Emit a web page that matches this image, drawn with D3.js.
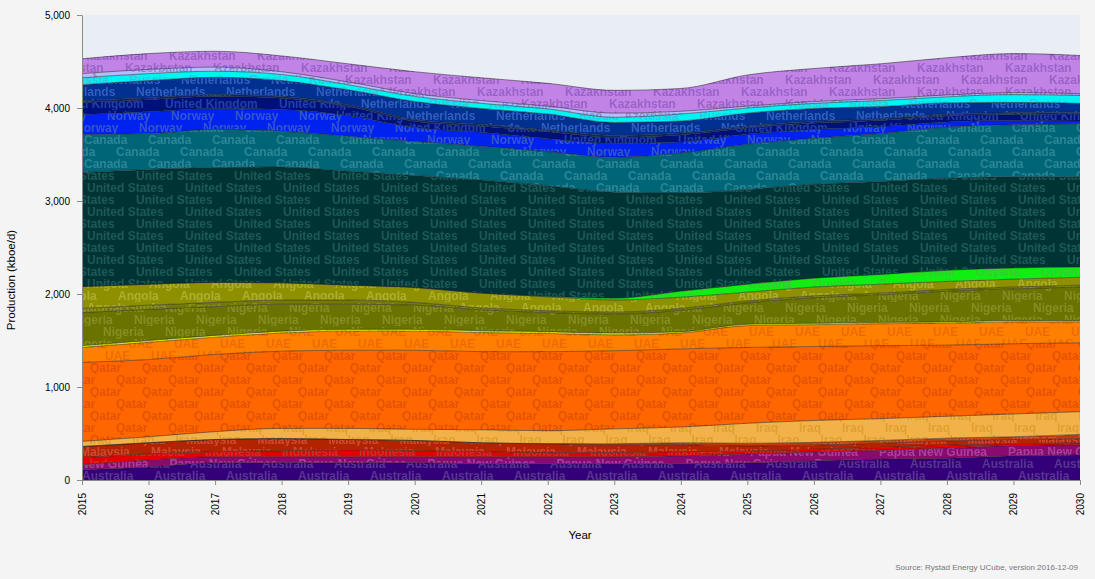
<!DOCTYPE html>
<html>
<head>
<meta charset="utf-8">
<title>Production by country</title>
<script src="https://d3js.org/d3.v7.min.js"></script>
<style>
  body { margin: 0; background: #f4f4f4; }
  svg { display: block; font-family: "Liberation Sans", Arial, sans-serif; }
</style>
</head>
<body>
<script>
// values in kboe/d
const years = [2015, 2016, 2017, 2018, 2019, 2020, 2021, 2022, 2023, 2024, 2025, 2026, 2027, 2028, 2029, 2030];

const australia        = [110, 140, 185, 185, 185, 185, 175, 175, 175, 175, 185, 205, 225, 235, 260, 270];
const papuaNewGuinea   = [55, 75, 65, 65, 65, 65, 75, 75, 75, 85, 95, 95, 95, 110, 110, 110];
const indonesia        = [75, 65, 55, 65, 75, 65, 55, 45, 45, 45, 30, 30, 30, 30, 20, 20];
const malaysia         = [120, 120, 130, 130, 110, 110, 95, 95, 85, 75, 55, 45, 45, 45, 45, 45];
const vietnam          = [0, 0, 0, 0, 0, 0, 0, 0, 10, 20, 30, 30, 30, 30, 30, 45];
const iraq             = [55, 65, 85, 110, 120, 120, 140, 140, 160, 170, 215, 235, 235, 235, 245, 245];
const qatar            = [850, 830, 830, 830, 840, 850, 840, 850, 840, 840, 815, 795, 785, 765, 755, 740];
const uae              = [160, 185, 185, 195, 205, 205, 205, 195, 170, 170, 235, 235, 235, 235, 235, 225];
const chad             = [20, 20, 20, 20, 20, 20, 20, 20, 20, 15, 15, 15, 15, 15, 15, 15];
const nigeria          = [355, 335, 310, 290, 270, 260, 225, 205, 205, 230, 230, 275, 295, 330, 340, 360];
const equatorialGuinea = [45, 45, 45, 45, 45, 30, 20, 20, 20, 20, 20, 20, 20, 20, 20, 20];
const angola           = [235, 225, 215, 185, 160, 160, 160, 150, 130, 120, 95, 95, 95, 85, 85, 85];
const guyana           = [0, 0, 0, 0, 0, 0, 0, 5, 20, 65, 85, 95, 105, 120, 120, 110];
const unitedStates     = [1225, 1235, 1235, 1245, 1225, 1205, 1215, 1190, 1140, 1055, 1020, 1010, 1000, 990, 980, 970];
const canada           = [410, 385, 410, 385, 375, 365, 365, 365, 375, 430, 485, 495, 515, 550, 560, 570];
const norway           = [215, 235, 225, 235, 225, 150, 150, 140, 150, 120, 110, 95, 75, 55, 45, 30];
const unitedKingdom    = [130, 130, 130, 120, 95, 65, 65, 75, 65, 75, 65, 65, 65, 65, 65, 75];
const germany          = [20, 20, 20, 20, 20, 20, 20, 20, 20, 20, 20, 20, 20, 20, 20, 20];
const netherlands      = [170, 185, 185, 170, 160, 195, 170, 170, 140, 130, 140, 140, 130, 120, 110, 95];
const russia           = [75, 75, 65, 65, 55, 55, 55, 55, 55, 75, 55, 55, 65, 65, 85, 85];
const azerbaijan       = [45, 45, 45, 30, 30, 30, 30, 30, 45, 30, 20, 20, 20, 20, 20, 20];
const kazakhstan       = [160, 170, 170, 170, 195, 235, 245, 245, 245, 245, 335, 355, 375, 400, 420, 410];

const yTicks = [0, 1000, 2000, 3000, 4000, 5000];

// stacking order, bottom to top
const countries = [
  ["Australia", australia], ["Papua New Guinea", papuaNewGuinea], ["Indonesia", indonesia],
  ["Malaysia", malaysia], ["Vietnam", vietnam], ["Iraq", iraq], ["Qatar", qatar], ["UAE", uae],
  ["Chad", chad], ["Nigeria", nigeria], ["Equatorial Guinea", equatorialGuinea], ["Angola", angola],
  ["Guyana", guyana], ["United States", unitedStates], ["Canada", canada], ["Norway", norway],
  ["United Kingdom", unitedKingdom], ["Germany", germany], ["Netherlands", netherlands],
  ["Russia", russia], ["Azerbaijan", azerbaijan], ["Kazakhstan", kazakhstan]
];

// fill colour, label colour
const colors = {
  "Australia": ["#34007a", "#56368f"],
  "Papua New Guinea": ["#8a0a70", "#a8409a"],
  "Indonesia": ["#e40000", "#c83030"],
  "Malaysia": ["#b22400", "#cc4a33"],
  "Vietnam": ["#c23a10", "#d05a30"],
  "Iraq": ["#f2b24a", "#e0a030"],
  "Qatar": ["#ff6600", "#e25200"],
  "UAE": ["#ff8000", "#ee6a00"],
  "Chad": ["#eeee00", "#c8c800"],
  "Nigeria": ["#6a7200", "#858d22"],
  "Equatorial Guinea": ["#747a05", "#8c9330"],
  "Angola": ["#8e9000", "#acae2e"],
  "Guyana": ["#11ee11", "#33cc33"],
  "United States": ["#003434", "#1d5858"],
  "Canada": ["#006677", "#2a8595"],
  "Norway": ["#0022ee", "#3355cc"],
  "United Kingdom": ["#00107a", "#2040a8"],
  "Germany": ["#102a70", "#3050a0"],
  "Netherlands": ["#003090", "#2f5ec0"],
  "Russia": ["#00f4f4", "#30c8e0"],
  "Azerbaijan": ["#b4bcff", "#8890d8"],
  "Kazakhstan": ["#c283e6", "#9a62c8"]
};

const W = 1095, H = 579;
const margin = {left: 82, right: 15, top: 15, bottom: 99};

const svg = d3.select("body").append("svg").attr("width", W).attr("height", H);

const x = d3.scaleLinear().domain([2015, 2030]).range([margin.left, W - margin.right]);
const y = d3.scaleLinear().domain([0, 5000]).range([H - margin.bottom, margin.top]);

const rows = years.map((yr, i) => {
  const r = {year: yr};
  countries.forEach(([name, vals]) => r[name] = vals[i]);
  return r;
});
const series = d3.stack().keys(countries.map(c => c[0]))(rows);

// plot background
svg.append("rect")
  .attr("x", x(2015)).attr("y", y(5000))
  .attr("width", x(2030) - x(2015)).attr("height", y(0) - y(5000))
  .attr("fill", "#e9edf4");

// repeated label patterns, one per country
const defs = svg.append("defs");
series.forEach((s, i) => {
  const tmp = svg.append("text").attr("font-size", 12).attr("font-weight", "bold").text(s.key);
  const w = tmp.node().getComputedTextLength();
  tmp.remove();
  const period = Math.round(w + 21);
  const pat = defs.append("pattern")
    .attr("id", "pat" + i)
    .attr("patternUnits", "userSpaceOnUse")
    .attr("width", period).attr("height", 24)
    .attr("x", margin.left + (i * 23) % period).attr("y", y(0) - 10);
  pat.selectAll("text")
    .data([[0, 10], [period / 2, 22], [-period / 2, 22]])
    .join("text")
    .attr("x", d => d[0]).attr("y", d => d[1])
    .attr("font-size", 12).attr("font-weight", "bold")
    .attr("fill", colors[s.key][1])
    .text(s.key);
});

const area = d3.area()
  .x(d => x(d.data.year))
  .y0(d => y(d[0]))
  .y1(d => y(d[1]))
  .curve(d3.curveMonotoneX);

const topLine = d3.line()
  .x(d => x(d.data.year))
  .y(d => y(d[1]))
  .curve(d3.curveMonotoneX);

const layers = svg.append("g");
layers.selectAll("path.fill")
  .data(series).join("path")
  .attr("class", "fill")
  .attr("d", area)
  .attr("fill", d => colors[d.key][0]);

layers.selectAll("path.label")
  .data(series).join("path")
  .attr("class", "label")
  .attr("d", area)
  .attr("fill", (d, i) => "url(#pat" + i + ")");

layers.selectAll("path.edge")
  .data(series).join("path")
  .attr("class", "edge")
  .attr("d", topLine)
  .attr("fill", "none")
  .attr("stroke", "#1a1a1a")
  .attr("stroke-opacity", 0.55)
  .attr("stroke-width", 0.9);

// axes
const yAxis = svg.append("g")
  .attr("transform", `translate(${margin.left},0)`)
  .call(d3.axisLeft(y).tickValues(yTicks).tickFormat(d3.format(",")).tickSize(5).tickPadding(7).tickSizeOuter(0));

const xAxis = svg.append("g")
  .attr("transform", `translate(0,${y(0)})`)
  .call(d3.axisBottom(x).tickValues(years).tickFormat(d3.format("d")).tickSize(5).tickSizeOuter(0));

xAxis.selectAll("text")
  .attr("transform", "rotate(-90)")
  .attr("x", -13).attr("y", 0).attr("dy", "0.35em")
  .style("text-anchor", "end");

[xAxis, yAxis].forEach(a => {
  a.selectAll("path, line").attr("stroke", "#8a8a8a");
  a.selectAll("text").attr("font-size", 10).attr("fill", "#000")
    .attr("font-family", "Liberation Sans, Arial, sans-serif");
});

svg.append("text")
  .attr("transform", `translate(15,${280}) rotate(-90)`)
  .attr("text-anchor", "middle")
  .attr("font-size", 11.5)
  .text("Production (kboe/d)");

svg.append("text")
  .attr("x", 580).attr("y", 539)
  .attr("text-anchor", "middle")
  .attr("font-size", 11.5)
  .text("Year");

svg.append("text")
  .attr("x", 1078).attr("y", 570)
  .attr("text-anchor", "end")
  .attr("font-size", 8)
  .attr("fill", "#777")
  .text("Source: Rystad Energy  UCube, version 2016-12-09");
</script>
</body>
</html>
